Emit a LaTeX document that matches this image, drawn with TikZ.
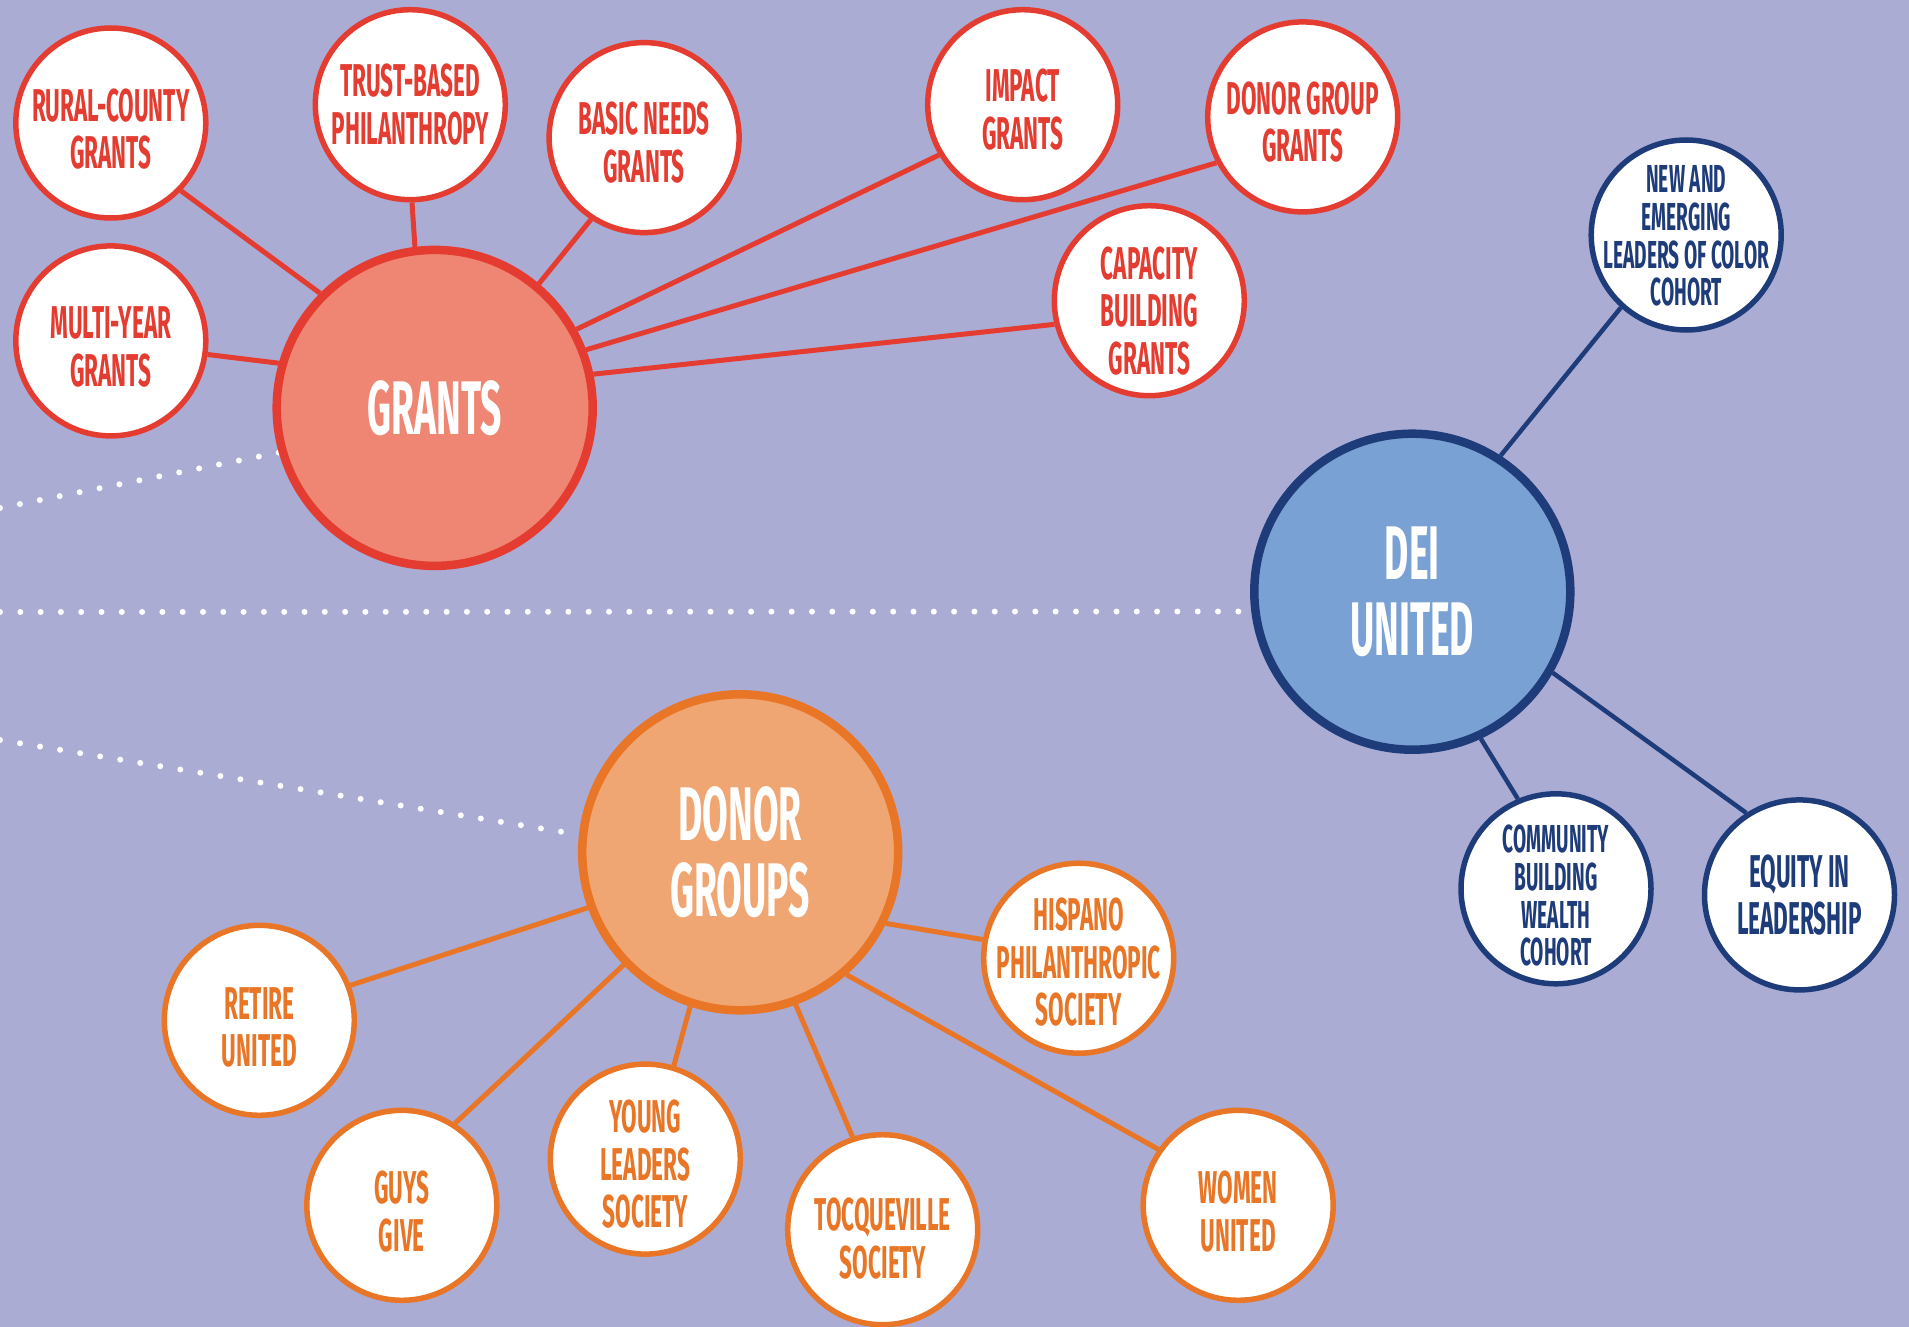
\documentclass[tikz,border=0pt]{standalone}
\usepackage{fontspec}
\setmainfont{Fira Sans}[FakeStretch=0.49]
\usetikzlibrary{backgrounds}
\definecolor{bgc}{RGB}{170,172,212}
\definecolor{cred}{RGB}{228,60,48}
\definecolor{redfill}{RGB}{238,134,115}
\definecolor{cnavy}{RGB}{31,60,122}
\definecolor{navyfill}{RGB}{122,161,211}
\definecolor{corange}{RGB}{232,118,38}
\definecolor{orangefill}{RGB}{240,166,114}
\tikzset{
  sat/.style={circle, draw, fill=white, line width=5.5pt, minimum size=190pt, inner sep=0pt},
  lab/.style={align=center, inner sep=0pt, font=\fontsize{46}{47.5}\selectfont\bfseries},
  labsmall/.style={lab, font=\fontsize{39}{37.7}\selectfont\bfseries},
  txt/.style={label={[lab, text=\satcol, yshift=-6pt]center:#1}},
  txtat/.style n args={2}{label={[lab, text=\satcol, yshift=#1]center:#2}},
  txtsmall/.style n args={2}{label={[labsmall, text=\satcol, yshift=#1]center:#2}},
  hub/.style={circle, draw, line width=8.5pt, minimum size=316pt, inner sep=0pt, align=center, text=white,
    font=\fontsize{76}{75.5}\selectfont\bfseries},
  redsat/.style={sat, draw=cred},
  navysat/.style={sat, draw=cnavy},
  orangesat/.style={sat, draw=corange},
  link/.style={line width=5pt},
  dots/.style={draw=white, line width=6pt, line cap=round, dash pattern=on 0pt off 20.3pt},
}
\begin{document}
\begin{tikzpicture}[x=1pt,y=-1pt]
\useasboundingbox (0,0) rectangle (1909,1327);
% hubs
\node[hub, draw=cred, fill=redfill] (grants) at (434.7,407.9) {\raisebox{-4pt}{GRANTS}};
\node[hub, draw=cnavy, fill=navyfill] (dei) at (1412.3,591.7) {DEI\\UNITED};
\node[hub, draw=corange, fill=orangefill] (donor) at (740.2,852.3) {DONOR\\GROUPS};
% grants satellites
\def\satcol{cred}
\node[redsat, txt={RURAL-COUNTY\\GRANTS}] (rural) at (110.8,123.0) {};
\node[redsat, txtat={0pt}{TRUST-BASED\\PHILANTHROPY}] (trust) at (410.3,104.7) {};
\node[redsat, txtat={-5pt}{BASIC NEEDS\\GRANTS}] (basic) at (644.1,137.6) {};
\node[redsat, txtat={-5pt}{IMPACT\\GRANTS}] (impact) at (1022.7,104.7) {};
\node[redsat, txtat={-5pt}{DONOR GROUP\\GRANTS}] (dgg) at (1302.7,116.9) {};
\node[redsat, txtat={-10pt}{CAPACITY\\BUILDING\\GRANTS}] (capacity) at (1149.3,300.7) {};
\node[redsat, txt={MULTI-YEAR\\GRANTS}] (multi) at (110.8,340.9) {};
% dei satellites
\def\satcol{cnavy}
\node[navysat, txtsmall={-1pt}{NEW AND\\EMERGING\\LEADERS OF COLOR\\COHORT}] (newem) at (1686.2,235.0) {};
\node[navysat, txtsmall={-7pt}{COMMUNITY\\BUILDING\\WEALTH\\COHORT}] (comm) at (1556.0,888.8) {};
\node[navysat, txtat={0pt}{EQUITY IN\\LEADERSHIP}] (equity) at (1799.5,894.9) {};
% donor satellites
\def\satcol{corange}
\node[orangesat, txtat={-7pt}{RETIRE\\UNITED}] (retire) at (259.3,1020.3) {};
\node[orangesat, txt={GUYS\\GIVE}] (guys) at (401.8,1205.3) {};
\node[orangesat, txtat={-5pt}{YOUNG\\LEADERS\\SOCIETY}] (young) at (645.3,1159.1) {};
\node[orangesat, txtat={-9pt}{TOCQUEVILLE\\SOCIETY}] (tocq) at (882.7,1229.7) {};
\node[orangesat, txt={WOMEN\\UNITED}] (women) at (1238.2,1205.3) {};
\node[orangesat, txtat={-4pt}{HISPANO\\PHILANTHROPIC\\SOCIETY}] (hispano) at (1078.7,958.2) {};
% free ends of dotted lines
\coordinate (d1) at (0,508);
\coordinate (d2) at (0,612);
\coordinate (d3) at (0,740);
\coordinate (d3e) at (563,832);
\begin{scope}[on background layer]
\fill[bgc] (0,0) rectangle (1909,1327);
\draw[dots, shorten >=-25pt] (d1) -- (grants.196);
\draw[dots, shorten >=-25pt] (d2) -- (dei.187);
\draw[dots] (d3) -- (d3e);
\begin{scope}[cred, link]
\draw (rural.316) -- (grants.135);
\draw (trust.271) -- (grants.97);
\draw (basic.237) -- (grants.50.5);
\draw (impact.211) -- (grants.29);
\draw (dgg.208) -- (grants.21);
\draw (capacity.194) -- (grants.12.7);
\draw (multi.352) -- (grants.164);
\end{scope}
\begin{scope}[cnavy, line width=4.5pt]
\draw (newem.228) -- (dei.57);
\draw (comm.113) -- (dei.295);
\draw (equity.123) -- (dei.330);
\end{scope}
\begin{scope}[corange, link]
\draw (retire.21.8) -- (donor.200);
\draw (guys.57) -- (donor.224);
\draw (young.73.8) -- (donor.252.5);
\draw (tocq.108) -- (donor.290.6);
\draw (women.145.7) -- (donor.311.4);
\draw (hispano.169) -- (donor.334);
\end{scope}
\end{scope}
\end{tikzpicture}
\end{document}
